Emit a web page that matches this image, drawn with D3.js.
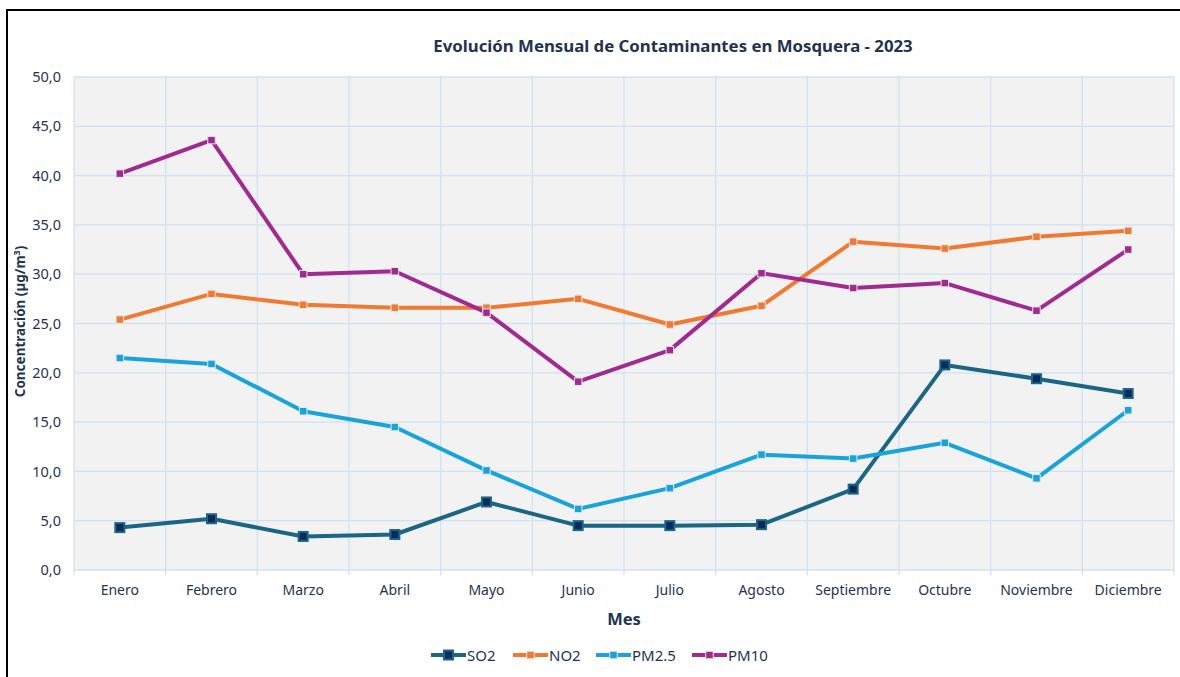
<!DOCTYPE html>
<html><head><meta charset="utf-8">
<script src="https://cdn.jsdelivr.net/npm/d3@7"></script>
<style>body{margin:0;background:#fff;}svg{display:block;font-family:"Noto Sans",Lato,sans-serif;}</style>
</head><body><svg id="c" width="1180" height="677"></svg>
<script>
const months = ["Enero","Febrero","Marzo","Abril","Mayo","Junio","Julio","Agosto","Septiembre","Octubre","Noviembre","Diciembre"];
const so2  = [4.3,5.2,3.4,3.6,6.9,4.5,4.5,4.6,8.2,20.8,19.4,17.9];
const no2  = [25.4,28.0,26.9,26.6,26.6,27.5,24.9,26.8,33.3,32.6,33.8,34.4];
const pm25 = [21.5,20.9,16.1,14.5,10.1,6.2,8.3,11.7,11.3,12.9,9.3,16.2];
const pm10 = [40.2,43.6,30.0,30.3,26.1,19.1,22.3,30.1,28.6,29.1,26.3,32.5];
const yTicks = [0,5,10,15,20,25,30,35,40,45,50];

const series = [
  {name:"SO2", values:so2, line:"#1b6585", fill:"#0b2a5c", size:9},
  {name:"NO2", values:no2, line:"#f07a32", fill:"#f07a32", size:7.5},
  {name:"PM2.5", values:pm25, line:"#18a3da", fill:"#18a3da", size:7.5},
  {name:"PM10", values:pm10, line:"#a12a90", fill:"#a12a90", size:7.5}
];
const textCol = "#1f344f";
const svg = d3.select("#c");
const L=74, R=1174, T=77, B=570;

svg.append("rect").attr("x",7).attr("y",10).attr("width",1200).attr("height",700)
  .attr("fill","#fff").attr("stroke","#000").attr("stroke-width",2);

const x = d3.scaleBand().domain(months).range([L,R]);
const y = d3.scaleLinear().domain([0,50]).range([B,T]);

svg.append("rect").attr("x",L).attr("y",T).attr("width",R-L).attr("height",B-T).attr("fill","#f2f2f2");

const g = svg.append("g");
g.selectAll(".hg").data(yTicks).enter().append("line")
  .attr("x1",L).attr("x2",R).attr("y1",d=>y(d)).attr("y2",d=>y(d))
  .attr("stroke","#cfe2f5").attr("stroke-width",1.3);
const bounds = months.map(m=>x(m)).concat([R]);
g.selectAll(".vg").data(bounds).enter().append("line")
  .attr("x1",d=>d).attr("x2",d=>d).attr("y1",T).attr("y2",B+5)
  .attr("stroke","#cfe2f5").attr("stroke-width",1.3);

// y axis labels
const yAxis = d3.axisLeft(y).tickValues(yTicks).tickSize(0).tickPadding(13)
  .tickFormat(d=>d3.format(".1f")(d).replace(".",","));
const ya = svg.append("g").attr("transform",`translate(${L},0)`).call(yAxis);
ya.select(".domain").remove();
ya.selectAll("text").attr("fill",textCol).style("font-size","14.5px").style("font-family","'Noto Sans',sans-serif");

// x axis labels
const xAxis = d3.axisBottom(x).tickSize(0).tickPadding(15);
const xa = svg.append("g").attr("transform",`translate(0,${B})`).call(xAxis);
xa.select(".domain").remove();
xa.selectAll("text").attr("fill",textCol).style("font-size","14px").style("font-family","'Noto Sans',sans-serif");

// lines
const cx = i => x(months[i]) + x.bandwidth()/2;
const lineGen = d3.line().x((d,i)=>cx(i)).y(d=>y(d));
series.forEach(s=>{
  svg.append("path").datum(s.values).attr("d",lineGen).attr("fill","none")
    .attr("stroke",s.line).attr("stroke-width",4).attr("stroke-linejoin","round");
});
series.forEach(s=>{
  svg.selectAll(null).data(s.values).enter().append("rect")
    .attr("x",(d,i)=>cx(i)-s.size/2).attr("y",d=>y(d)-s.size/2)
    .attr("width",s.size).attr("height",s.size)
    .attr("fill",s.fill)
    .attr("stroke",s.name==="SO2"?s.line:"#e8e8e8").attr("stroke-width",s.name==="SO2"?2:1);
});

// title
svg.append("text").attr("x",673).attr("y",52).attr("text-anchor","middle")
  .attr("fill",textCol).style("font-size","16.8px").style("font-weight","bold")
  .text("Evolución Mensual de Contaminantes en Mosquera - 2023");

// axis titles
svg.append("text").attr("x",(L+R)/2).attr("y",625).attr("text-anchor","middle")
  .attr("fill",textCol).style("font-size","16.5px").style("font-weight","bold").text("Mes");
const yt = svg.append("text").attr("transform",`translate(25,${(T+B)/2-2}) rotate(-90)`)
  .attr("text-anchor","middle").attr("fill",textCol).style("font-size","13.5px").style("font-weight","bold");
yt.append("tspan").text("Concentración (µg/m");
yt.append("tspan").attr("dy",-5).style("font-size","9px").text("3");
yt.append("tspan").attr("dy",5).text(")");

// legend
const legX = [431, 513, 596, 692];
series.forEach((s,i)=>{
  const lg = svg.append("g").attr("transform",`translate(${legX[i]},655)`);
  lg.append("line").attr("x1",0).attr("x2",35).attr("y1",0).attr("y2",0).attr("stroke",s.line).attr("stroke-width",4);
  lg.append("rect").attr("x",17.5-s.size/2).attr("y",-s.size/2).attr("width",s.size).attr("height",s.size)
    .attr("fill",s.fill).attr("stroke",s.name==="SO2"?s.line:"#e8e8e8").attr("stroke-width",s.name==="SO2"?2:1);
  lg.append("text").attr("x",36).attr("y",5.5).attr("fill",textCol).style("font-size","15px").text(s.name);
});
</script></body></html>
